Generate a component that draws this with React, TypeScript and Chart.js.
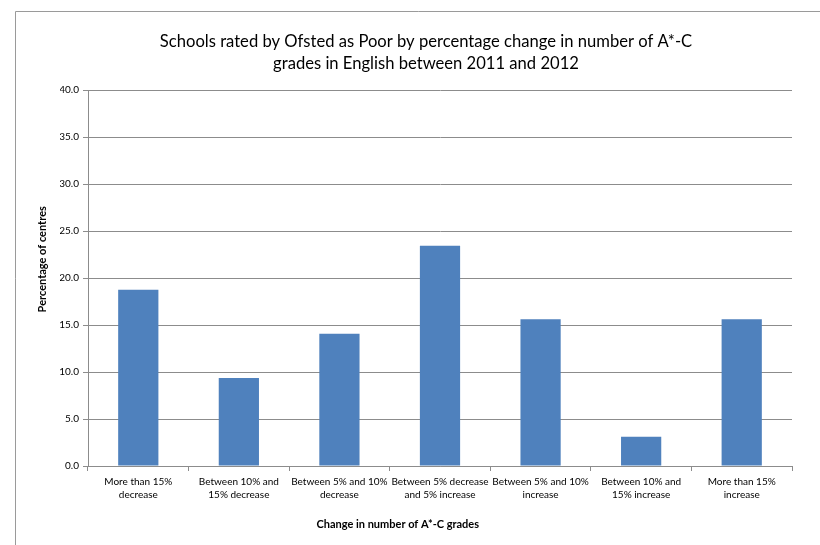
import React, { useEffect, useRef } from "react";
import { Chart, registerables } from "chart.js";

Chart.register(...registerables);

const categories: string[][] = [
  ["More than 15%", "decrease"],
  ["Between 10% and", "15% decrease"],
  ["Between 5% and 10%", "decrease"],
  ["Between 5% decrease", "and 5% increase"],
  ["Between 5% and 10%", "increase"],
  ["Between 10% and", "15% increase"],
  ["More than 15%", "increase"],
];
const values: number[] = [18.75, 9.375, 14.0625, 23.4375, 15.625, 3.125, 15.625];
const titleLines = [
  "Schools rated by Ofsted as Poor by percentage change in number of A*-C",
  "grades in English between 2011 and 2012",
];
const xTitle = "Change in number of A*-C grades";
const yTitle = "Percentage of centres";

const FONT = "Lato, 'Open Sans', sans-serif";
const GRID = "#8c8c8c";

const framePlugin = {
  id: "frameAndTitles",
  beforeDraw(chart: any) {
    const ctx = chart.ctx;
    ctx.save();
    ctx.strokeStyle = "#9a9a9a";
    ctx.lineWidth = 1;
    ctx.beginPath();
    ctx.moveTo(15.5, 560);
    ctx.lineTo(15.5, 11.5);
    ctx.lineTo(840, 11.5);
    ctx.stroke();
    ctx.restore();
  },
  afterDraw(chart: any) {
    const ctx = chart.ctx;
    const a = chart.chartArea;
    ctx.save();
    ctx.fillStyle = "#000";
    ctx.font = `bold 11px ${FONT}`;
    ctx.textAlign = "center";
    ctx.textBaseline = "middle";
    ctx.fillText(xTitle, a.left + (a.right - a.left) * 0.44, a.bottom + 58);
    ctx.translate(a.left - 46, a.top + (a.bottom - a.top) * 0.45);
    ctx.rotate(-Math.PI / 2);
    ctx.fillText(yTitle, 0, 0);
    ctx.restore();
  },
};

export default function App() {
  const ref = useRef<HTMLCanvasElement>(null);
  useEffect(() => {
    document.body.style.margin = "0";
    const chart = new Chart(ref.current!, {
      type: "bar",
      data: {
        labels: categories,
        datasets: [
          {
            data: values,
            backgroundColor: "#4F81BD",
            borderWidth: 0,
            barPercentage: 0.4,
            categoryPercentage: 1.0,
          },
        ],
      },
      options: {
        animation: false,
        responsive: false,
        maintainAspectRatio: false,
        layout: { padding: { left: 60, right: 28, top: 0, bottom: 0 } },
        plugins: {
          legend: { display: false },
          tooltip: { enabled: false },
          title: {
            display: true,
            text: titleLines,
            color: "#000",
            font: { family: FONT, size: 16.6, weight: "normal", lineHeight: 1.3 },
            padding: { top: 31, bottom: 16 },
          },
        },
        scales: {
          x: {
            afterFit: (s: any) => {
              s.height = 79;
            },
            grid: {
              display: true,
              drawOnChartArea: false,
              drawTicks: true,
              tickLength: 5,
              color: GRID,
              offset: true,
            },
            border: { display: true, color: GRID },
            ticks: {
              color: "#000",
              font: { family: FONT, size: 10, lineHeight: 1.3 },
              padding: 4,
              maxRotation: 0,
              autoSkip: false,
            },
          },
          y: {
            min: 0,
            max: 40,
            afterFit: (s: any) => {
              s.width = 28;
            },
            grid: {
              color: GRID,
              tickLength: 5,
              drawTicks: true,
            },
            border: { display: true, color: GRID },
            ticks: {
              stepSize: 5,
              color: "#000",
              font: { family: FONT, size: 10 },
              padding: 4,
              callback: (v: any) => Number(v).toFixed(1),
            },
          },
        },
      },
      plugins: [framePlugin],
    });
    return () => chart.destroy();
  }, []);
  return (
    <div style={{ position: "absolute", left: 0, top: 0, width: 820, height: 545 }}>
      <canvas ref={ref} width={820} height={545} style={{ width: 820, height: 545 }} />
    </div>
  );
}
